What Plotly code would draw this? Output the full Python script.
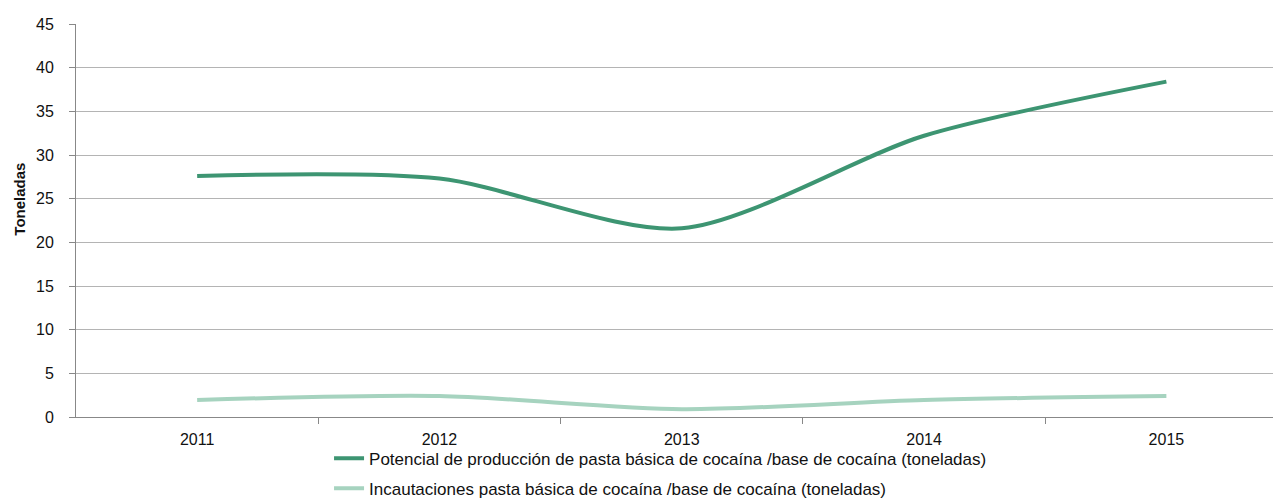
import plotly.graph_objects as go

years = ["2011", "2012", "2013", "2014", "2015"]
produccion = [27.6, 27.3, 21.6, 32.2, 38.4]
incautaciones = [1.95, 2.4, 0.9, 1.95, 2.4]
name_prod = "Potencial de producción de pasta básica de cocaína /base de cocaína (toneladas)"
name_inc = "Incautaciones pasta básica de cocaína /base de cocaína (toneladas)"

xs = list(range(len(years)))

fig = go.Figure()
fig.add_trace(go.Scatter(x=xs, y=produccion, mode="lines", name=name_prod,
                         line=dict(color="#3d9572", width=4, shape="spline", smoothing=0.8),
                         legendgroup="a"))
fig.add_trace(go.Scatter(x=xs, y=incautaciones, mode="lines", name=name_inc,
                         line=dict(color="#a6d3bf", width=4, shape="spline", smoothing=0.8),
                         legendgroup="b"))

fig.update_layout(
    width=1273, height=500,
    margin=dict(l=76, r=0, t=24, b=83, autoexpand=False),
    paper_bgcolor="white", plot_bgcolor="white",
    font=dict(family="Liberation Sans, Arial, sans-serif", size=16, color="#111"),
    legend=dict(x=0.2114, y=-0.06, xanchor="left", yanchor="top",
                orientation="v", tracegroupgap=5,
                font=dict(size=17, family="Liberation Sans, Arial"),
                bgcolor="rgba(0,0,0,0)"),
    showlegend=True,
    annotations=[dict(text="<b>Toneladas</b>", textangle=-90, xref="paper", yref="paper",
                      x=-0.047, y=0.555, xanchor="center", yanchor="middle", showarrow=False,
                      font=dict(size=15, family="Liberation Sans, Arial", color="#111"))],
)
fig.update_xaxes(
    range=[-0.5, 4.44], automargin=False,
    tickmode="array", tickvals=xs, ticktext=years, ticks="",
    showgrid=False, showline=True, linecolor="#888", linewidth=1,
    tickfont=dict(size=16), ticklabelstandoff=8,
    minor=dict(tickmode="array", tickvals=[0.5, 1.5, 2.5, 3.5], ticks="outside",
               ticklen=6, tickcolor="#888", showgrid=False),
    zeroline=False,
)
fig.update_yaxes(
    range=[0, 45], dtick=5, tick0=0, automargin=False,
    showgrid=True, gridcolor="#b4b4b4", gridwidth=1,
    showline=True, linecolor="#888", linewidth=1,
    ticks="outside", ticklen=6, tickcolor="#888",
    tickfont=dict(size=16), ticklabelstandoff=12,
    zeroline=False,
)
fig.write_html("out.html", config={"displayModeBar": False},
               post_script="document.body.style.margin='0';")
